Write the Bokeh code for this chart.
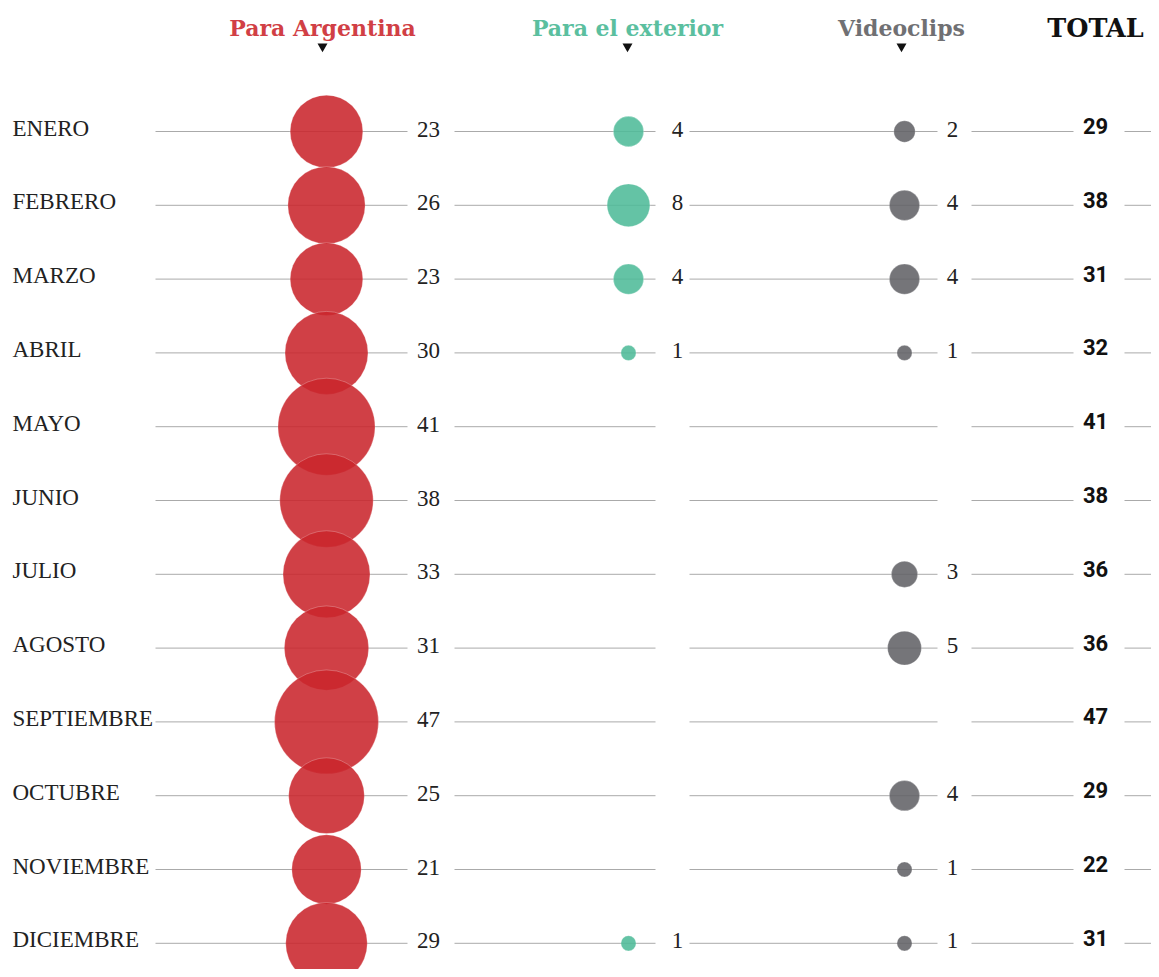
from bokeh.plotting import figure
from bokeh.models import Range1d
from bokeh.core.properties import value
from bokeh.embed import file_html
from bokeh.resources import INLINE
import math

# ---------------- data ----------------
months = ["ENERO", "FEBRERO", "MARZO", "ABRIL", "MAYO", "JUNIO", "JULIO",
          "AGOSTO", "SEPTIEMBRE", "OCTUBRE", "NOVIEMBRE", "DICIEMBRE"]
para_argentina = [23, 26, 23, 30, 41, 38, 33, 31, 47, 25, 21, 29]
para_exterior = [4, 8, 4, 1, 0, 0, 0, 0, 0, 0, 0, 1]
videoclips = [2, 4, 4, 1, 0, 0, 3, 5, 0, 4, 1, 1]
total = [29, 38, 31, 32, 41, 38, 36, 36, 47, 29, 22, 31]
headers = ["Para Argentina", "Para el exterior", "Videoclips"]

# ---------------- layout (screen-pixel coordinates) ----------------
ROW0, STEP = 131, 73.8
rows = [ROW0 + STEP * i for i in range(len(months))]
COL_X = [326, 628, 904]          # circle centres
LBL_X = [428, 677, 952]          # value label centres
HEAD_X = [322, 627, 901]
TOTAL_X = 1095
K = 7.58                         # radius per sqrt(value)
COLORS = ["#c9252c", "#4fbb98", "#626266"]
HEAD_COLORS = ["#d13f45", "#5bbf9f", "#707073"]
SEGS = [(155, 407), (454, 655), (689, 937), (971, 1073), (1124, 1159)]

p = figure(width=1151, height=969, x_range=Range1d(0, 1151), y_range=Range1d(969, 0),
           output_backend="svg", toolbar_location=None,
           x_axis_location=None, y_axis_location=None, min_border=0,
           outline_line_color=None, background_fill_color="white")
p.grid.grid_line_color = None

# row lines
x0s, x1s, ys = [], [], []
for y in rows:
    for a, b in SEGS:
        x0s.append(a); x1s.append(b); ys.append(y)
p.segment(x0=x0s, y0=ys, x1=x1s, y1=ys, line_color="#aaaaaa", line_width=1)

# month labels
p.text(x=[12] * len(months), y=[y - 3.5 for y in rows], text=months,
       text_font=value("Liberation Serif"), text_font_size="23px",
       text_color="#222222", text_baseline="alphabetic", text_align="left")

# circles + value labels
series = [para_argentina, para_exterior, videoclips]
for s, vals in enumerate(series):
    xs = [COL_X[s] for v in vals if v > 0]
    yy = [rows[i] for i, v in enumerate(vals) if v > 0]
    sz = [2 * K * math.sqrt(v) for v in vals if v > 0]
    txt = [str(v) for v in vals if v > 0]
    p.scatter(x=xs, y=yy, size=sz, marker="circle", fill_color=COLORS[s],
              fill_alpha=0.88, line_color="white", line_alpha=0.25, line_width=1)
    p.text(x=[LBL_X[s]] * len(txt), y=[y - 2.5 for y in yy], text=txt,
           text_font=value("Liberation Serif"), text_font_size="23px",
           text_color="#222222", text_baseline="alphabetic", text_align="center")

# totals
p.text(x=[TOTAL_X] * len(total), y=[y - 5.5 for y in rows], text=[str(t) for t in total],
       text_font=value("Roboto"), text_font_style="bold", text_font_size="22px",
       text_color="#111111", text_baseline="alphabetic", text_align="center")

# headers
p.text(x=HEAD_X, y=[27] * 3, text=headers, text_color=HEAD_COLORS,
       text_font=value("DejaVu Serif"), text_font_style="bold", text_font_size="22px",
       text_baseline="alphabetic", text_align="center")
p.text(x=[TOTAL_X], y=[27], text=["TOTAL"], text_color="#111111",
       text_font=value("DejaVu Serif"), text_font_style="bold", text_font_size="25.5px",
       text_baseline="alphabetic", text_align="center")
p.scatter(x=HEAD_X, y=[46] * 3, marker="inverted_triangle", size=10,
          fill_color="#111111", line_color=None)

open("out.html", "w").write(file_html(p, INLINE))
